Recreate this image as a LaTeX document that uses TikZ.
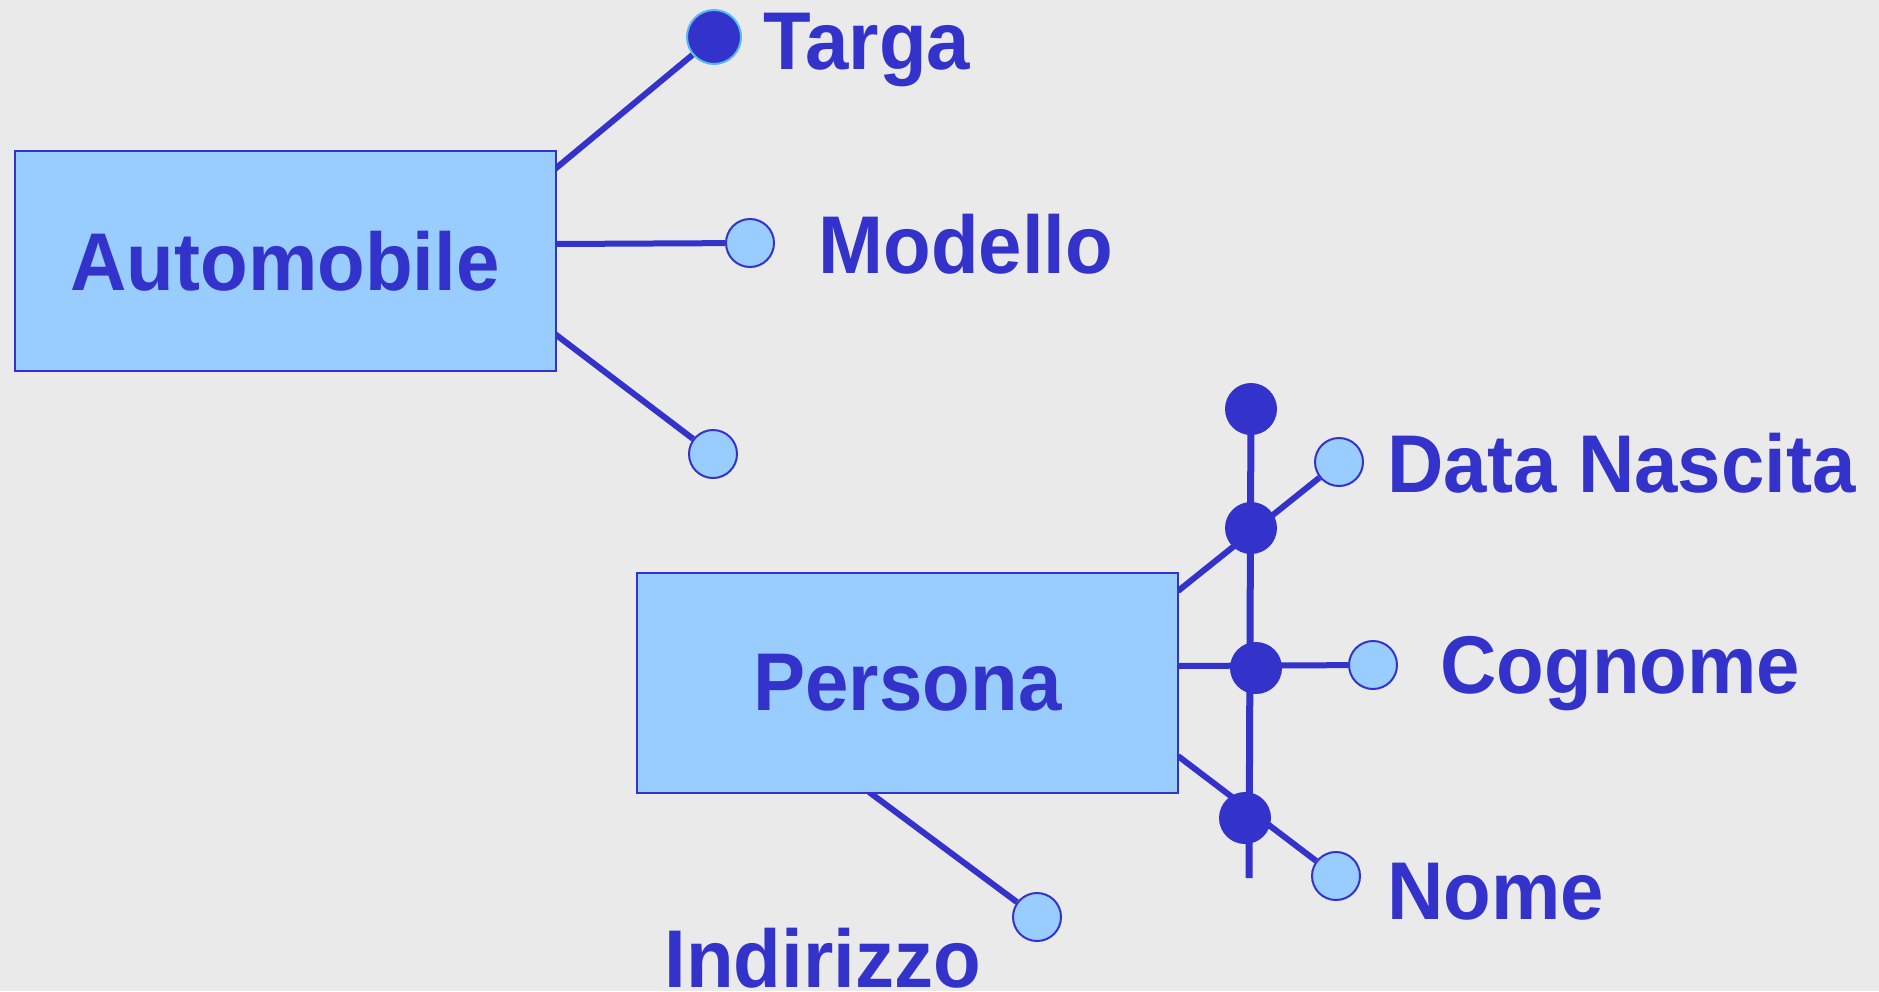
\documentclass[tikz,border=0pt]{standalone}
\usepackage{graphicx}
\usepackage{fontspec}
\setmainfont{Liberation Sans}
\definecolor{dkb}{HTML}{3333CC}
\definecolor{ltb}{HTML}{99CCFF}
\definecolor{bgc}{HTML}{EAEAEA}
\definecolor{cyo}{HTML}{55BBEE}
\newcommand{\tallt}[1]{\scalebox{1}[1.05]{#1}}
\pgfdeclarelayer{bg}
\pgfsetlayers{bg,main}
\tikzset{
  entity/.style={draw=dkb, line width=1pt, fill=ltb, rectangle, minimum width=270.5pt, minimum height=110pt, inner sep=0pt, text=dkb, font=\fontsize{39pt}{46pt}\selectfont\bfseries},
  attr/.style={circle, draw=dkb, line width=1pt, fill=ltb, minimum size=24pt, inner sep=0pt},
  keyc/.style={circle, fill=dkb, minimum size=26pt, inner sep=0pt},
  keyo/.style={circle, fill=dkb, draw=cyo, line width=1pt, minimum size=27pt, inner sep=0pt},
  lbl/.style={anchor=base west, inner sep=0pt, text=dkb, font=\fontsize{39pt}{46pt}\selectfont\bfseries},
  conn/.style={draw=dkb, line width=3pt},
}
\begin{document}
\begin{tikzpicture}[x=0.5pt,y=-0.5pt]
\useasboundingbox (0,0) rectangle (1879,991);
\begin{pgfonlayer}{bg}
\fill[bgc] (0,0) rectangle (1879,991);
\end{pgfonlayer}
% entities
\node[entity] (auto) at (285,261) {\tallt{Automobile}};
\node[entity] (pers) at (907.5,683) {\tallt{Persona}};
% attribute circles
\node[keyo] (targa) at (714,37) {};
\node[attr] (modello) at (750,243) {};
\node[attr] (anon) at (713,454) {};
\node[attr] (datan) at (1339,462) {};
\node[attr] (cogn) at (1373,665) {};
\node[attr] (nome) at (1336,876) {};
\node[attr] (indir) at (1037,917) {};
% composite identifier
\node[keyc] (k0) at (1251,409) {};
\node[keyc] (k1) at (1251,528) {};
\node[keyc] (k2) at (1256,668) {};
\node[keyc] (k3) at (1245,818) {};
% labels
\node[lbl] (ltarga) at (763,69) {\tallt{Targa}};
\node[lbl] (lmod) at (818,273) {\tallt{Modello}};
\node[lbl] (ldn) at (1387,492) {\tallt{Data Nascita}};
\node[lbl] (lcog) at (1440,693) {\tallt{Cognome}};
\node[lbl] (lnome) at (1387,919) {\tallt{Nome}};
\node[lbl] (lind) at (664,987) {\tallt{Indirizzo}};
% connector end points on entity borders
\coordinate (a1) at (555,169);
\coordinate (a2) at (555,244);
\coordinate (a3) at (555,334);
\coordinate (p1) at (1178,591);
\coordinate (p2) at (1178,666);
\coordinate (p3) at (1178,756);
\coordinate (p4) at (869,792);
\coordinate (vbot) at (1249,878);
\begin{pgfonlayer}{bg}
\draw[conn] (a1) -- (targa);
\draw[conn] (a2) -- (modello);
\draw[conn] (a3) -- (anon);
\draw[conn] (p1) -- (datan);
\draw[conn] (p2) -- (cogn);
\draw[conn] (p3) -- (nome);
\draw[conn] (p4) -- (indir);
\draw[conn, line width=3.5pt] (k0.center) -- (vbot);
\end{pgfonlayer}
\end{tikzpicture}
\end{document}
